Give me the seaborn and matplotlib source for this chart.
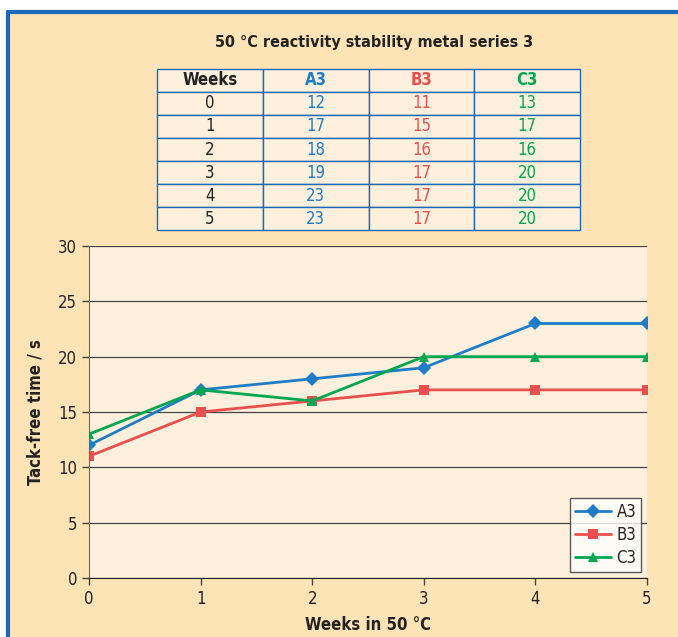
import pandas as pd
import matplotlib.pyplot as plt
import seaborn as sns
from matplotlib.patches import Rectangle
from matplotlib.lines import Line2D

weeks = [0, 1, 2, 3, 4, 5]
a3 = [12, 17, 18, 19, 23, 23]
b3 = [11, 15, 16, 17, 17, 17]
c3 = [13, 17, 16, 20, 20, 20]
series = ['A3', 'B3', 'C3']
colors = {'A3': '#1f7cc6', 'B3': '#e8504f', 'C3': '#00a650'}
markers = {'A3': 'D', 'B3': 's', 'C3': '^'}

df = pd.DataFrame({'Weeks': weeks, 'A3': a3, 'B3': b3, 'C3': c3})
long = df.melt(id_vars='Weeks', var_name='Series', value_name='Time')

sns.set_style('white')
plt.rcParams['font.family'] = ['DejaVu Sans']
plt.rcParams['font.stretch'] = 'condensed'

bg = '#fde3b5'
panel = '#fef0dc'
blue = '#1a6ab8'

fig = plt.figure(figsize=(6.78, 6.37), dpi=100)
fig.patch.set_facecolor('white')
# background frame: blue top/left line, orange fill
fig.add_artist(Rectangle((9/678, 0), 1, 1 - 13/637, transform=fig.transFigure,
                         facecolor=bg, edgecolor='none', zorder=-5))
fig.add_artist(Line2D([8/678, 1], [1 - 12/637, 1 - 12/637], color=blue, lw=3, zorder=-4))
fig.add_artist(Line2D([8/678, 8/678], [0, 1 - 12/637], color=blue, lw=3, zorder=-4))

fig.text(0.551, 0.934, '50 °C reactivity stability metal series 3', ha='center', va='center',
         fontsize=11.5, fontweight='bold', color='#222222')

# table
tax = fig.add_axes([0.2316, 0.6389, 0.6239, 0.2528])
tax.axis('off')
cells = [[str(w), str(a), str(b), str(c)] for w, a, b, c in zip(weeks, a3, b3, c3)]
tbl = tax.table(cellText=cells, colLabels=['Weeks'] + series, loc='center',
                cellLoc='center', bbox=[0, 0, 1, 1])
tbl.auto_set_font_size(False)
col_colors = ['#222222', colors['A3'], colors['B3'], colors['C3']]
for (r, c), cell in tbl.get_celld().items():
    cell.set_facecolor(panel)
    cell.set_edgecolor(blue)
    cell.set_linewidth(1.0)
    cell.get_text().set_color(col_colors[c])
    cell.get_text().set_fontsize(12)
    if r == 0:
        cell.get_text().set_fontweight('bold')

# chart
ax = fig.add_axes([0.1313, 0.0926, 0.8230, 0.5212])
ax.set_facecolor(panel)
sns.lineplot(data=long, x='Weeks', y='Time', hue='Series', style='Series',
             palette=colors, markers=markers, dashes=False, lw=2,
             markersize=7, markeredgewidth=0, ax=ax)
ax.set_xlim(0, 5)
ax.set_ylim(0, 30)
ax.set_xticks(weeks)
ax.set_yticks(range(0, 31, 5))
ax.yaxis.grid(True, color='#444444', lw=0.9)
ax.set_axisbelow(True)
for s in ['top', 'right']:
    ax.spines[s].set_visible(False)
ax.spines['left'].set_color('#666666')
ax.spines['bottom'].set_color('#222222')
ax.tick_params(axis='both', direction='out', length=5, width=1, color='#444444',
               labelsize=12, labelcolor='#222222', bottom=True, left=True)
ax.set_xlabel('Weeks in 50 °C', fontsize=12, fontweight='bold', color='#222222', labelpad=6)
ax.set_ylabel('Tack-free time / s', fontsize=12, fontweight='bold', color='#222222', labelpad=10)
leg = ax.legend(loc='lower right', bbox_to_anchor=(0.99, 0.018), fontsize=12,
                frameon=True, fancybox=False, handlelength=2.2, borderpad=0.3,
                labelspacing=0.3, handletextpad=0.3, borderaxespad=0)
leg.get_frame().set_edgecolor('#333333')
leg.get_frame().set_facecolor('white')
leg.get_frame().set_linewidth(1.0)
for t in leg.get_texts():
    t.set_color('#222222')

fig.savefig('out.png', dpi=100)
